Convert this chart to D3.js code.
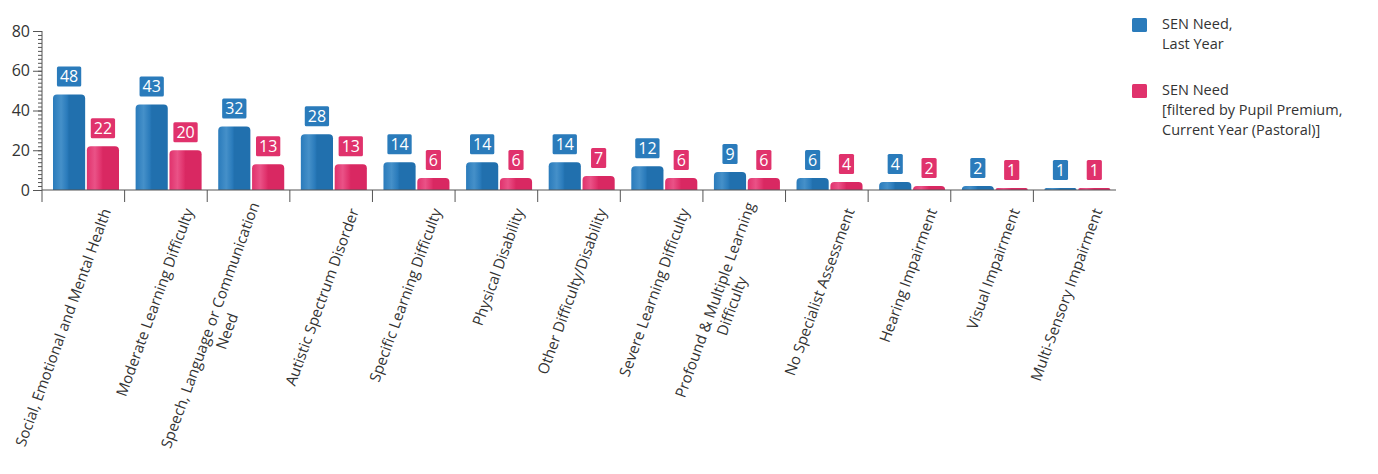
<!DOCTYPE html>
<html>
<head>
<meta charset="utf-8">
<script src="https://cdn.jsdelivr.net/npm/d3@7"></script>
<style>
    body { margin: 0; background: #fff; }
    svg { display: block; font-family: "Open Sans", sans-serif; }
</style>
</head>
<body>
<svg id="chart" width="1378" height="474"></svg>
<script>
// data
var categories = [
    "Social, Emotional and Mental Health",
    "Moderate Learning Difficulty",
    "Speech, Language or Communication\nNeed",
    "Autistic Spectrum Disorder",
    "Specific Learning Difficulty",
    "Physical Disability",
    "Other Difficulty/Disability",
    "Severe Learning Difficulty",
    "Profound & Multiple Learning\nDifficulty",
    "No Specialist Assessment",
    "Hearing Impairment",
    "Visual Impairment",
    "Multi-Sensory Impairment"
];
var lastYear = [48, 43, 32, 28, 14, 14, 14, 12, 9, 6, 4, 2, 1];
var currentYear = [22, 20, 13, 13, 6, 6, 7, 6, 6, 4, 2, 1, 1];
var seriesNames = [
    ["SEN Need,", "Last Year"],
    ["SEN Need", "[filtered by Pupil Premium,", "Current Year (Pastoral)]"]
];
var yTicks = [0, 20, 40, 60, 80];

var colors = ["#2a7bbb", "#e0326c"];
var light = ["#4590c9", "#ea5287"];
var dark = ["#2170ae", "#d92862"];

var svg = d3.select("#chart");

var x0 = d3.scaleBand().domain(d3.range(categories.length)).range([42, 1116]);
var x1 = d3.scaleBand().domain([0, 1]).range([11, 77]).paddingInner(0.05);
var y = d3.scaleLinear().domain([0, 80]).range([190, 31]);

// soft gradient for the cylinder-ish bars
var defs = svg.append("defs");
colors.forEach(function (c, s) {
    var g = defs.append("linearGradient").attr("id", "grad" + s)
        .attr("x1", "0%").attr("x2", "100%").attr("y1", "0%").attr("y2", "0%");
    g.append("stop").attr("offset", "0%").attr("stop-color", c);
    g.append("stop").attr("offset", "25%").attr("stop-color", light[s]);
    g.append("stop").attr("offset", "44%").attr("stop-color", c);
    g.append("stop").attr("offset", "50%").attr("stop-color", dark[s]);
    g.append("stop").attr("offset", "100%").attr("stop-color", dark[s]);
});

// y axis with minor ticks
var yAxis = svg.append("g").attr("transform", "translate(42,0)");
yAxis.append("g")
    .call(d3.axisLeft(y).tickValues(d3.range(0, 81, 2)).tickSize(4).tickFormat(""))
    .call(function (g) { g.select(".domain").remove(); })
    .selectAll("line").attr("stroke", "#555");
yAxis.append("g")
    .call(d3.axisLeft(y).tickValues(yTicks).tickSize(9).tickPadding(3))
    .call(function (g) {
        g.select(".domain").attr("stroke", "#555").attr("d", "M0," + y(80) + "V" + y(0));
        g.selectAll("line").attr("stroke", "#555");
        g.selectAll("text").attr("fill", "#333").style("font-size", "16px")
            .style("font-family", "Open Sans, sans-serif");
    });

// bars
var series = [lastYear, currentYear];
var rounded = function (bx, by, w, h, r) {
    r = Math.min(r, h);
    return "M" + bx + "," + (by + h) + "V" + (by + r) + "Q" + bx + "," + by + " " + (bx + r) + "," + by +
        "H" + (bx + w - r) + "Q" + (bx + w) + "," + by + " " + (bx + w) + "," + (by + r) + "V" + (by + h) + "Z";
};

var groups = svg.append("g").selectAll("g")
    .data(categories)
    .enter().append("g")
    .attr("transform", function (d, i) { return "translate(" + x0(i) + ",0)"; });

series.forEach(function (vals, s) {
    groups.append("path")
        .attr("d", function (d, i) {
            return rounded(x1(s), y(vals[i]), x1.bandwidth(), y(0) - y(vals[i]), 4);
        })
        .attr("fill", "url(#grad" + s + ")");

    var lab = groups.append("g")
        .attr("transform", function (d, i) {
            return "translate(" + (x1(s) + x1.bandwidth() / 2) + "," + (y(vals[i]) - 18) + ")";
        });
    var rects = lab.append("rect").attr("fill", colors[s]).attr("rx", 1.5);
    var texts = lab.append("text")
        .attr("text-anchor", "middle")
        .attr("dy", "0.36em")
        .attr("fill", "#fff")
        .style("font-size", "16px")
        .text(function (d, i) { return vals[i]; });
    texts.each(function (d, i) {
        var w = this.getComputedTextLength() + 6;
        d3.select(rects.nodes()[i])
            .attr("x", -w / 2).attr("y", -10).attr("width", w).attr("height", 20);
    });
});

// x axis
var xAxis = svg.append("g");
xAxis.append("line")
    .attr("x1", x0.range()[0]).attr("x2", x0.range()[1])
    .attr("y1", y(0)).attr("y2", y(0))
    .attr("stroke", "#555");
xAxis.selectAll(".tick")
    .data(categories)
    .enter().append("line")
    .attr("x1", function (d, i) { return x0(i); })
    .attr("x2", function (d, i) { return x0(i); })
    .attr("y1", y(0)).attr("y2", y(0) + 12)
    .attr("stroke", "#555");

var lineH = 18;
var xl = xAxis.selectAll(".xlabel")
    .data(categories)
    .enter().append("text")
    .attr("class", "xlabel")
    .attr("fill", "#333")
    .style("font-size", "15px")
    .attr("transform", function (d, i) {
        return "translate(" + (x0(i) + x0.bandwidth() / 2 + 23) + "," + (y(0) + 19) + ") rotate(-70)";
    });
xl.each(function (d) {
    var el = d3.select(this);
    var lines = d.split("\n");
    var spans = lines.map(function (t, k) {
        return el.append("tspan").text(t)
            .attr("y", (k - (lines.length - 1)) * lineH);
    });
    var w = d3.max(spans, function (sp) { return sp.node().getComputedTextLength(); });
    spans.forEach(function (sp) {
        sp.attr("x", -w / 2).attr("text-anchor", "middle").attr("dy", "0.35em");
    });
});

// legend
var legend = svg.append("g").attr("transform", "translate(1132,18)");
seriesNames.forEach(function (lines, s) {
    var g = legend.append("g").attr("transform", "translate(0," + (s * 66) + ")");
    g.append("rect").attr("width", 15).attr("height", 14).attr("rx", 1.5).attr("fill", colors[s]);
    lines.forEach(function (t, k) {
        g.append("text").attr("x", 30).attr("y", 6 + k * 20).attr("dy", "0.35em")
            .attr("fill", "#333").style("font-size", "14.5px").text(t);
    });
});
</script>
</body>
</html>
